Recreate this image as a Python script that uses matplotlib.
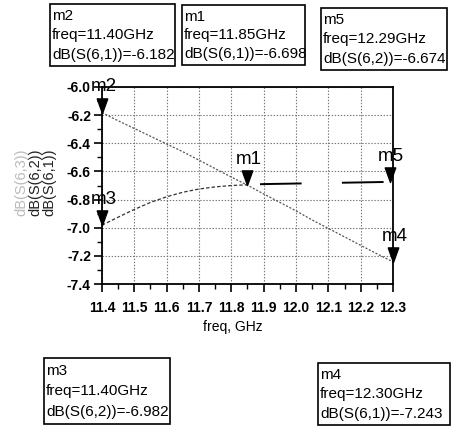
import matplotlib
matplotlib.use("Agg")
import matplotlib.pyplot as plt
from matplotlib.patches import Rectangle
from matplotlib.path import Path
from matplotlib.ticker import MultipleLocator, FormatStrFormatter

plt.rcParams['font.family'] = ['Liberation Sans', 'DejaVu Sans']
plt.rcParams['axes.unicode_minus'] = False
plt.rcParams['lines.scale_dashes'] = False

# frequency sweep, GHz
freq = [11.40, 11.45, 11.50, 11.55, 11.60, 11.65, 11.70, 11.75, 11.80, 11.85,
        11.90, 11.95, 12.00, 12.05, 12.10, 12.15, 12.20, 12.25, 12.29, 12.30]
s61 = [-6.182, -6.240, -6.295, -6.350, -6.405, -6.460, -6.520, -6.580, -6.640, -6.698,
       -6.760, -6.820, -6.880, -6.945, -7.005, -7.065, -7.125, -7.185, -7.231, -7.243]
s62 = [-6.982, -6.925, -6.870, -6.820, -6.780, -6.748, -6.725, -6.710, -6.700, -6.695,
       -6.690, -6.688, -6.686, -6.684, -6.682, -6.680, -6.678, -6.676, -6.674, -6.674]

# markers: name, freq, trace, value
mk_names = ['m1', 'm2', 'm3', 'm4', 'm5']
mk_freq = [11.85, 11.40, 11.40, 12.30, 12.29]
mk_trace = ['dB(S(6,1))', 'dB(S(6,1))', 'dB(S(6,2))', 'dB(S(6,1))', 'dB(S(6,2))']
mk_val = [-6.698, -6.182, -6.982, -7.243, -6.674]

W, H = 451, 426
fig = plt.figure(figsize=(W / 100, H / 100), dpi=100)
ax = fig.add_axes([102 / W, 1 - 284 / H, (393 - 102) / W, (284 - 87) / H])

# S(6,1): fine dotted grey
ax.plot(freq, s61, color='#555555', lw=0.9, linestyle=(0, (1.5, 1.2)))
# S(6,2): fine dashes up to m1, long dashes after
split = freq.index(11.85)
ax.plot(freq[:split + 1], s62[:split + 1], color='#333333', lw=0.9,
        linestyle=(0, (2.5, 1.5)))
ax.plot(freq[split:], s62[split:], color='black', lw=1.4,
        linestyle=(50, (30, 29)))

# downward triangle with its tip on the data point
tri = Path([(-0.36, 1.0), (0.36, 1.0), (0.0, 0.0), (-0.36, 1.0)],
           [Path.MOVETO, Path.LINETO, Path.LINETO, Path.CLOSEPOLY])
for name, f, v in zip(mk_names, mk_freq, mk_val):
    ax.plot([f], [v], marker=tri, ms=21, color='black', clip_on=False, zorder=5)
    ax.annotate(name, (f, v), xytext=(1, 18.5), textcoords='offset points',
                ha='center', va='center', fontsize=13.5, annotation_clip=False)

ax.set_xlim(11.4, 12.3)
ax.set_ylim(-7.4, -6.0)
ax.xaxis.set_major_locator(MultipleLocator(0.1))
ax.xaxis.set_minor_locator(MultipleLocator(0.05))
ax.yaxis.set_major_locator(MultipleLocator(0.2))
ax.yaxis.set_minor_locator(MultipleLocator(0.1))
ax.xaxis.set_major_formatter(FormatStrFormatter('%.1f'))
ax.yaxis.set_major_formatter(FormatStrFormatter('%.1f'))
ax.tick_params(which='major', direction='out', length=6, width=1.2,
               labelsize=10, pad=2)
ax.tick_params(which='minor', direction='out', length=3.5, width=1.0)
ax.tick_params(axis='x', pad=6)
for lab in ax.get_xticklabels() + ax.get_yticklabels():
    lab.set_fontweight('bold')
ax.grid(True, which='major', color='#777777', linestyle=(0, (1, 1.2)), lw=0.8)
for sp in ax.spines.values():
    sp.set_linewidth(1.3)

fig.text(233 / W, 1 - 327 / H, 'freq, GHz', ha='center', va='center', fontsize=10)

# stacked rotated trace names on the y axis
ylab = [('dB(S(6,3))', '#bbbbbb', 21), ('dB(S(6,2))', '#222222', 35),
        ('dB(S(6,1))', '#222222', 49)]
for txt, col, xp in ylab:
    fig.text(xp / W, 1 - 182 / H, txt, rotation=90, ha='center', va='center',
             fontsize=10.5, color=col)

# marker readout boxes (left, top, right, bottom in pixels)
boxes = {'m2': (50, 4, 175, 66), 'm1': (182, 5, 305, 65), 'm5': (321, 8, 447, 70),
         'm3': (44, 358, 170, 424), 'm4': (318, 363, 450, 425)}
for name, f, tr, v in zip(mk_names, mk_freq, mk_trace, mk_val):
    l, t, r, b = boxes[name]
    fig.patches.append(Rectangle((l / W, 1 - b / H), (r - l) / W, (b - t) / H,
                                 transform=fig.transFigure, fill=False,
                                 edgecolor='black', lw=1.2))
    lines = [name, 'freq=%.2fGHz' % f, '%s=%.3f' % (tr, v)]
    step = (b - t) / 3.2
    for i, ln in enumerate(lines):
        fig.text((l + 2) / W, 1 - (t + step * (i + 0.62)) / H, ln,
                 ha='left', va='center', fontsize=11)

fig.savefig('out.png', dpi=100)
